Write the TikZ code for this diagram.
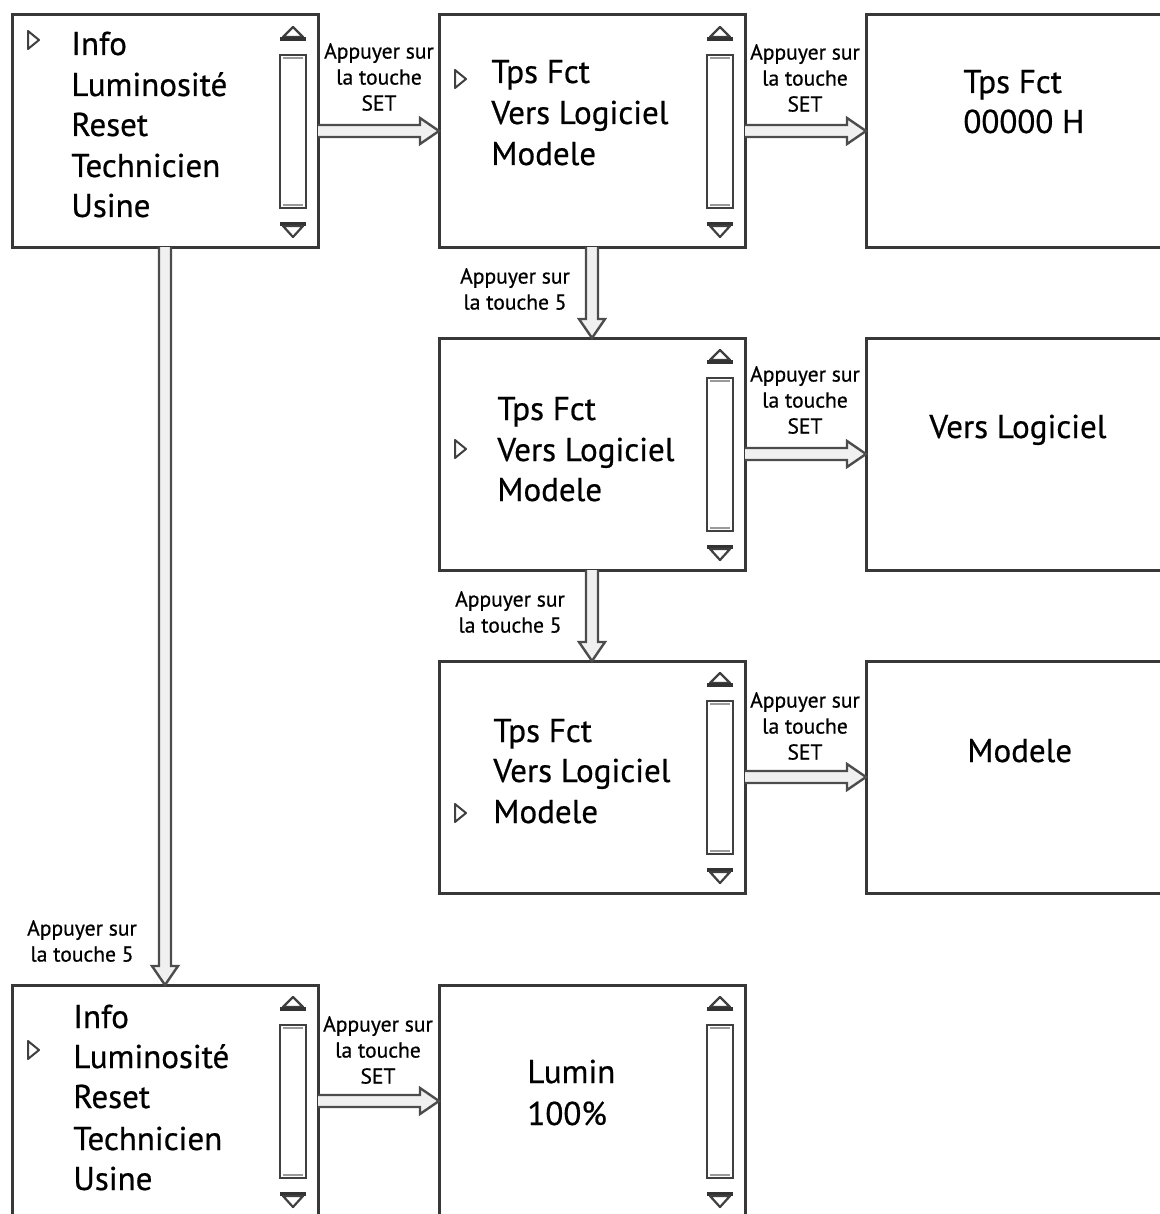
\documentclass[tikz,border=0pt]{standalone}
\usepackage{fontspec}
\setmainfont{PT Sans}
\newfontfamily\heavy{PT Sans}[FakeBold=0.6]
\usetikzlibrary{arrows.meta,calc}
\newcommand{\harrow}[2]{%
  \draw[blk] ($(#1.east)+(0,-6)$) -- ($(#2.west)+(-19,-6)$) -- ($(#2.west)+(-19,-13)$)
    -- (#2.west) -- ($(#2.west)+(-19,13)$) -- ($(#2.west)+(-19,6)$) -- ($(#1.east)+(0,6)$);}
\newcommand{\varrow}[2]{%
  \draw[blk] ($(#1.south)+(-6,0)$) -- ($(#2.north)+(-6,-19)$) -- ($(#2.north)+(-13,-19)$)
    -- (#2.north) -- ($(#2.north)+(13,-19)$) -- ($(#2.north)+(6,-19)$) -- ($(#1.south)+(6,0)$);}
\begin{document}
\begin{tikzpicture}[x=0.5pt,y=-0.5pt,
  box/.style={draw=black!78, line width=1.5pt, minimum width=153pt, minimum height=116pt, inner sep=0pt, outer sep=0pt, anchor=north west},
  menu/.style={anchor=base west, font=\heavy\fontsize{16.5}{19}\selectfont, text=black, inner sep=0pt},
  lbl/.style={align=center, font=\heavy\fontsize{10.8}{13}\selectfont, text=black, inner sep=0pt},
  blk/.style={draw=black!70, line width=1.2pt, fill=black!6, line join=miter},
  ptr/.style={draw=black!75, line width=1pt, line join=round},
  sb/.style={draw=black!75, line width=1.1pt},
  scrollbar/.pic={
    \draw[sb, fill=white] (-38,40) rectangle (-12,193);
    \draw[draw=black!40, line width=0.6pt] (-35,43) -- (-15,43);
    \draw[draw=black!40, line width=0.6pt] (-35,190) -- (-15,190);
    \draw[sb, line join=round] (-35,22) -- (-25,12) -- (-15,22) -- cycle;
    \draw[draw=black!80, line width=1.6pt] (-38,24) -- (-12,24);
    \draw[draw=black!80, line width=1.6pt] (-38,209) -- (-12,209);
    \draw[sb, line join=round] (-35,211) -- (-25,222) -- (-15,211) -- cycle;
  }
]
\useasboundingbox (0,0) rectangle (1160,1214);
\clip (0,0) rectangle (1160,1214);

% boxes
\node[box] (A) at (12,15) {};
\node[box] (B) at (439,15) {};
\node[box] (C) at (866,15) {};
\node[box] (D) at (439,338) {};
\node[box] (E) at (866,338) {};
\node[box] (F) at (439,661) {};
\node[box] (G) at (866,661) {};
\node[box] (H) at (12,985) {};
\node[box] (I) at (439,985) {};

% scrollbars
\pic at (A.north east) {scrollbar};
\pic at (B.north east) {scrollbar};
\pic at (D.north east) {scrollbar};
\pic at (F.north east) {scrollbar};
\pic at (H.north east) {scrollbar};
\pic at (I.north east) {scrollbar};

% box A text
\node[menu] (a1) at (71,55) {Info};
\node[menu] (a2) at (71,96) {Luminosité};
\node[menu] (a3) at (71,136) {Reset};
\node[menu] (a4) at (71,177) {Technicien};
\node[menu] (a5) at (71,217) {Usine};
\draw[ptr] (28,31) -- (39,40) -- (28,49) -- cycle;

% box B text
\node[menu] (b1) at (491,83) {Tps Fct};
\node[menu] (b2) at (491,124) {Vers Logiciel};
\node[menu] (b3) at (491,165) {Modele};
\draw[ptr] (455,70) -- (466,79) -- (455,88) -- cycle;

% box C text
\node[menu] (c1) at (963,93) {Tps Fct};
\node[menu] (c2) at (963,133) {00000 H};

% box D text
\node[menu] (d1) at (497,420) {Tps Fct};
\node[menu] (d2) at (497,461) {Vers Logiciel};
\node[menu] (d3) at (497,501) {Modele};
\draw[ptr] (455,440) -- (466,449) -- (455,458) -- cycle;

% box E text
\node[menu] (e1) at (929,438) {Vers Logiciel};

% box F text
\node[menu] (f1) at (493,742) {Tps Fct};
\node[menu] (f2) at (493,782) {Vers Logiciel};
\node[menu] (f3) at (493,823) {Modele};
\draw[ptr] (455,804) -- (466,813) -- (455,822) -- cycle;

% box G text
\node[menu] (g1) at (967,762) {Modele};

% box H text
\node[menu] (h1) at (73,1028) {Info};
\node[menu] (h2) at (73,1068) {Luminosité};
\node[menu] (h3) at (73,1108) {Reset};
\node[menu] (h4) at (73,1150) {Technicien};
\node[menu] (h5) at (73,1190) {Usine};
\draw[ptr] (28,1041) -- (39,1050) -- (28,1059) -- cycle;

% box I text
\node[menu] (i1) at (527,1083) {Lumin};
\node[menu] (i2) at (527,1125) {100\%};

% arrows
\harrow{A}{B}
\harrow{B}{C}
\varrow{B}{D}
\harrow{D}{E}
\varrow{D}{F}
\harrow{F}{G}
\varrow{A}{H}
\harrow{H}{I}

% labels
\node[lbl] (l1) at (379,77) {Appuyer sur\\la touche\\SET};
\node[lbl] (l2) at (805,78) {Appuyer sur\\la touche\\SET};
\node[lbl] (l3) at (515,289) {Appuyer sur\\la touche 5};
\node[lbl] (l4) at (805,400) {Appuyer sur\\la touche\\SET};
\node[lbl] (l5) at (510,612) {Appuyer sur\\la touche 5};
\node[lbl] (l6) at (805,726) {Appuyer sur\\la touche\\SET};
\node[lbl] (l7) at (82,941) {Appuyer sur\\la touche 5};
\node[lbl] (l8) at (378,1050) {Appuyer sur\\la touche\\SET};
\end{tikzpicture}
\end{document}
